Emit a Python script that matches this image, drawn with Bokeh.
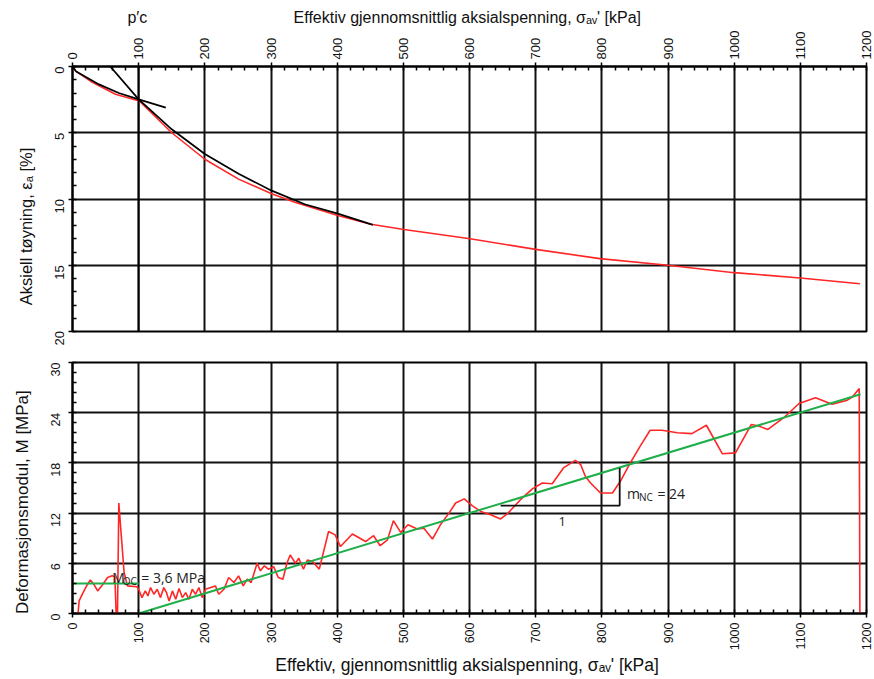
import math
from bokeh.plotting import figure
from bokeh.layouts import column
from bokeh.models import Range1d, SingleIntervalTicker, FixedTicker, LinearAxis, Label
from bokeh.embed import file_html
from bokeh.resources import INLINE

# ---------------- data: top chart (strain vs. effective stress) ----------------
sigma_eps = [0, 5, 30, 65, 101, 150, 200, 251, 301, 336, 401, 451, 501, 601,
             700, 797, 900, 1000, 1100, 1190]
eps = [0, 0.35, 1.2, 2.1, 2.6, 5.0, 7.0, 8.5, 9.6, 10.25, 11.25, 11.9, 12.3, 13.0,
       13.8, 14.5, 15.0, 15.56, 15.96, 16.4]

# hand-drawn construction lines
sigma_oc_line = [-7.5, 5, 40, 70, 100, 141]
eps_oc_line = [-0.65, 0.35, 1.35, 2.0, 2.48, 3.1]
sigma_nc_line = [35, 100, 150, 200, 251, 301, 351, 401, 454]
eps_nc_line = [-1.28, 2.48, 4.74, 6.6, 8.1, 9.37, 10.4, 11.1, 11.95]
pc_x = [100, 100]
pc_eps = [-1.8, 20.75]

# ---------------- data: bottom chart (modulus vs. effective stress) ----------------
sigma_M = [8.4, 10, 16, 22, 27, 33, 38, 46, 53, 60,
           64, 66, 68, 70, 78, 83, 97.5, 100, 105, 110,
           114, 118, 123, 128, 133, 138, 142, 146, 151, 156,
           161, 166, 171, 176, 181, 186, 191, 196, 201, 209,
           216, 221, 229, 236, 244, 251, 258, 264, 270, 279,
           284, 290, 296, 304, 311, 318, 324, 329, 337, 342,
           349, 355, 363, 373, 387, 397, 405, 423, 443, 455,
           465, 476, 485, 496, 507, 521, 531, 544, 556, 569,
           579, 592, 604, 617, 632, 647, 657, 677, 695, 710,
           725, 742, 760, 768, 775, 783, 798, 816, 828, 843,
           858, 873, 891, 914, 936, 958, 982, 1002, 1026, 1037,
           1051, 1075, 1098, 1123, 1148, 1171, 1179, 1189, 1190]
M = [0, 1.5, 2.5, 3.4, 4.0, 3.4, 2.7, 3.5, 4.3, 4.5,
     4.4, 0, 0, 13.2, 4.9, 3.3, 3.2, 2.9, 1.9, 2.7,
     2.1, 3.1, 2.3, 2.9, 1.9, 3.1, 2.5, 1.5, 2.7, 1.7,
     3.0, 1.9, 2.5, 1.7, 2.9, 2.3, 3.1, 1.9, 2.9, 3.1,
     3.3, 2.3, 2.9, 4.3, 3.7, 4.5, 3.3, 4.1, 3.7, 6.0,
     5.1, 5.7, 5.3, 5.6, 4.3, 4.1, 6.0, 7.0, 6.0, 6.6,
     5.3, 6.4, 6.2, 5.3, 9.8, 9.4, 8.0, 9.5, 8.6, 9.3,
     8.1, 8.8, 11.1, 9.7, 10.6, 10.1, 10.2, 8.9, 10.6, 12.0,
     13.2, 13.7, 12.9, 12.2, 11.8, 11.3, 11.9, 13.6, 14.9, 15.6,
     15.5, 17.4, 18.3, 17.8, 16.4, 15.6, 14.4, 14.4, 15.8, 18.0,
     20.0, 21.9, 21.9, 21.6, 21.5, 22.5, 19.1, 19.2, 22.6, 22.4,
     22.0, 23.4, 25.1, 25.8, 25.0, 25.5, 25.9, 26.9, 0]

moc_x = [0, 100]
moc_y = [3.6, 3.6]
mnc_x = [100, 1191]
mnc_y = [0, 26.2]
tri_x = [647, 827, 827]
tri_y = [12.9, 12.9, 17.4]

# header row of the top chart: p'c marker and axis title (positions in kPa)
header_pos = [98, 600]
header_txt = ["p′c", "Effektiv gjennomsnittlig aksialspenning, σₐᵥ'  [kPa]"]

RED = "#ff2626"
GREEN = "#1fae4a"
AXFONT = "Liberation Sans"
INK = "#111111"
NB = "\u00a0"


def style(p, xt, yt, ylab_standoff, xlab_standoff, tick_size):
    p.background_fill_color = "white"
    p.border_fill_color = "white"
    p.outline_line_color = "black"
    p.outline_line_width = 2
    p.outline_line_alpha = 1
    for ax, t in ((p.xaxis, xt), (p.yaxis, yt)):
        ax.ticker = t
        ax.axis_line_color = "black"
        ax.axis_line_width = 2
        ax.major_tick_in = 0
        ax.major_tick_out = 4
        ax.major_tick_line_width = 1.5
        ax.minor_tick_in = 4
        ax.minor_tick_out = 0
        ax.minor_tick_line_width = 1.5
        ax.minor_tick_line_color = "black"
        ax.major_tick_line_color = "black"
        ax.major_label_orientation = math.pi / 2
        ax.major_label_text_font = AXFONT
        ax.major_label_text_font_size = tick_size
        ax.major_label_text_color = INK
        ax.axis_label_text_font = AXFONT
        ax.axis_label_text_font_style = "normal"
        ax.axis_label_text_color = INK
    p.xgrid.ticker = xt
    p.ygrid.ticker = yt
    for g in (p.xgrid, p.ygrid):
        g.grid_line_color = INK
        g.grid_line_width = 2
        g.grid_line_alpha = 1
    p.yaxis.major_label_standoff = ylab_standoff
    p.xaxis.major_label_standoff = xlab_standoff


# ---------------- top figure ----------------
p1 = figure(width=874, height=345, x_range=Range1d(0, 1200), y_range=Range1d(20, 0),
            x_axis_location="above", output_backend="svg", toolbar_location=None,
            min_border_left=70, min_border_right=6, min_border_top=66,
            min_border_bottom=14)
style(p1, SingleIntervalTicker(interval=100, num_minor_ticks=5),
      SingleIntervalTicker(interval=5, num_minor_ticks=5), 9, 3, "13px")
# trailing no-break spaces push the visible title slightly below the frame centre
p1.yaxis.axis_label = "Aksiell tøyning, εₐ  [%]" + NB * 11
p1.yaxis.axis_label_text_font_size = "16.5px"
p1.yaxis.axis_label_standoff = 13

header = LinearAxis(ticker=FixedTicker(ticks=header_pos),
                    major_label_overrides=dict(zip(header_pos, header_txt)))
header.axis_line_color = None
header.major_tick_line_color = None
header.minor_tick_line_color = None
header.major_tick_in = 0
header.major_tick_out = 0
header.major_label_standoff = 2
header.major_label_text_font = AXFONT
header.major_label_text_font_size = "16px"
header.major_label_text_color = INK
p1.add_layout(header, "above")

p1.line(sigma_eps, eps, line_color=RED, line_width=1.6)
p1.line(sigma_oc_line, eps_oc_line, line_color="black", line_width=1.7)
p1.line(sigma_nc_line, eps_nc_line, line_color="black", line_width=1.7)
p1.line(pc_x, pc_eps, line_color="black", line_width=1.8)

# ---------------- bottom figure ----------------
p2 = figure(width=874, height=334, x_range=Range1d(0, 1200), y_range=Range1d(0, 30),
            output_backend="svg", toolbar_location=None,
            min_border_left=72, min_border_right=8, min_border_top=17,
            min_border_bottom=66)
style(p2, SingleIntervalTicker(interval=100, num_minor_ticks=5),
      SingleIntervalTicker(interval=6, num_minor_ticks=5), 13, 5, "12.5px")
p2.xaxis.axis_label = "Effektiv, gjennomsnittlig aksialspenning, σₐᵥ'  [kPa]"
p2.xaxis.axis_label_text_font_size = "17.5px"
p2.xaxis.axis_label_standoff = 2
p2.yaxis.axis_label = "Deformasjonsmodul, M [MPa]" + NB * 6
p2.yaxis.axis_label_text_font_size = "17px"
p2.yaxis.axis_label_standoff = 12

p2.line(sigma_M, M, line_color=RED, line_width=1.6)
p2.line(moc_x, moc_y, line_color=GREEN, line_width=2)
p2.line(mnc_x, mnc_y, line_color=GREEN, line_width=2)
p2.line(tri_x, tri_y, line_color=INK, line_width=1.8)

TXT = "Open Sans"
p2.add_layout(Label(x=60, y=4.3, text="M", text_font=TXT, text_font_size="14px",
                    text_baseline="alphabetic", text_color="#222222"))
p2.add_layout(Label(x=76, y=3.85, text="OC", text_font=TXT, text_font_size="10px",
                    text_baseline="alphabetic", text_color="#222222"))
p2.add_layout(Label(x=104, y=4.3, text="= 3,6 MPa", text_font=TXT, text_font_size="14px",
                    text_baseline="alphabetic", text_color="#222222"))
p2.add_layout(Label(x=838, y=14.4, text="m", text_font=TXT, text_font_size="14px",
                    text_baseline="alphabetic", text_color="#222222"))
p2.add_layout(Label(x=856, y=13.9, text="NC", text_font=TXT, text_font_size="10px",
                    text_baseline="alphabetic", text_color="#222222"))
p2.add_layout(Label(x=884, y=14.4, text="= 24", text_font=TXT, text_font_size="14px",
                    text_baseline="alphabetic", text_color="#222222"))
p2.add_layout(Label(x=740, y=11.0, text="1", text_font=TXT, text_font_size="13px",
                    text_align="center", text_baseline="alphabetic", text_color="#222222"))

layout = column(p1, p2, spacing=0)
open("out.html", "w").write(file_html(layout, INLINE))
